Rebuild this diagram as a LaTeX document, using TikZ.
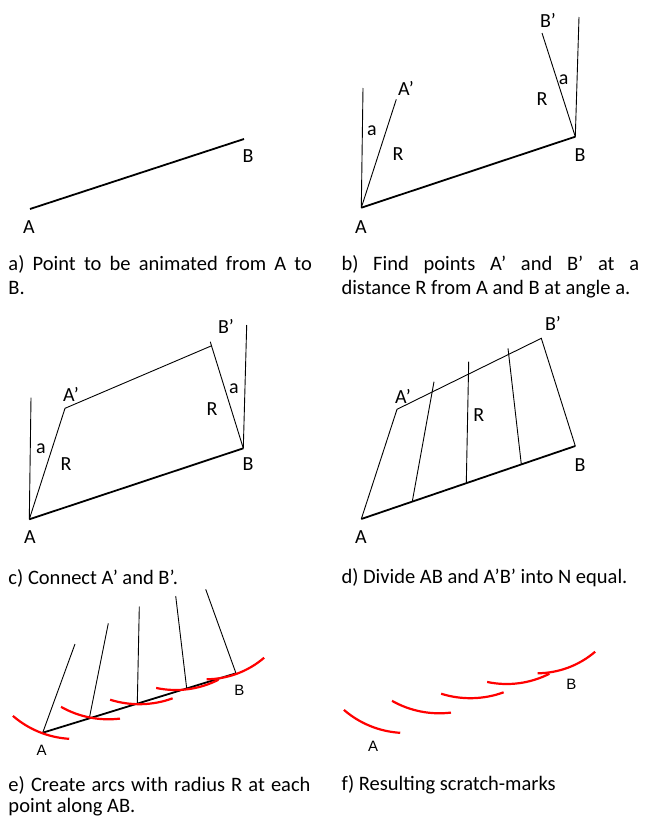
\documentclass[tikz,border=0pt]{standalone}
\usepackage{fontspec}
\setmainfont{Carlito}
\newfontfamily\arialfont{Liberation Sans}
\begin{document}
\begin{tikzpicture}[x=1pt,y=-1pt,
  seg/.style={line width=0.9pt},
  base/.style={line width=1.8pt},
  redarc/.style={red, line width=2.2pt},
  lbl/.style={font=\fontsize{20}{24}\selectfont, inner sep=0pt},
  slbl/.style={font=\arialfont\fontsize{15}{18}\selectfont, inner sep=0pt},
  captext/.style={font=\fontsize{20.5}{24}\selectfont, inner sep=0pt, anchor=base west},
]
\useasboundingbox (0,0) rectangle (646,817);

% ---------- panel a ----------
\coordinate (aA) at (30,209);
\coordinate (aB) at (244,139);
\draw[base] (aA) -- (aB);
\node[lbl] (aAl) at (29,227) {A};
\node[lbl] (aBl) at (248,156) {B};
\node[captext] (capa1) at (8.3,270.7) {\makebox[303.5pt][s]{a) Point to be animated from A to}};
\node[captext] (capa2) at (8.3,294.7) {B.};

% ---------- panel b ----------
\coordinate (bA) at (361.3,207.7);
\coordinate (bB) at (575.3,136.7);
\coordinate (bAv) at (363,88);
\coordinate (bAp) at (396.3,99.3);
\coordinate (bBv) at (579,17);
\coordinate (bBp) at (542,33);
\draw[base] (bA) -- (bB);
\draw[seg] (bA) -- (bAv);
\draw[seg] (bA) -- (bAp);
\draw[seg] (bB) -- (bBv);
\draw[seg] (bB) -- (bBp);
\node[lbl] (bApl) at (406,88) {A’};
\node[lbl] (bal) at (372,131) {a};
\node[lbl] (bRl) at (398,154) {R};
\node[lbl] (bAl) at (361,227) {A};
\node[lbl] (bBl) at (580,155) {B};
\node[lbl] (bBpl) at (548,20) {B’};
\node[lbl] (ba2l) at (563.7,80) {a};
\node[lbl] (bR2l) at (542,99) {R};
\node[captext] (capb1) at (341.3,270.7) {\makebox[297.7pt][s]{b) Find points A’ and B’ at a}};
\node[captext] (capb2) at (341.3,294.7) {distance R from A and B at angle a.};

% ---------- panel c ----------
\coordinate (cA) at (29.3,519.3);
\coordinate (cB) at (243.3,448.3);
\coordinate (cAv) at (31,397.7);
\coordinate (cAp) at (65,408.3);
\coordinate (cBp) at (211.5,345.8);
\coordinate (cBt) at (210.3,341.8);
\coordinate (cBv) at (246.7,325);
\draw[base] (cA) -- (cB);
\draw[seg] (cA) -- (cAv);
\draw[seg] (cA) -- (cAp) -- (cBp);
\draw[seg] (cB) -- (cBp) -- (cBt);
\draw[seg] (cB) -- (cBv);
\node[lbl] (cApl) at (71,394) {A’};
\node[lbl] (cBpl) at (226,326) {B’};
\node[lbl] (cal) at (41,449) {a};
\node[lbl] (cRl) at (66,464) {R};
\node[lbl] (ca2l) at (234,389) {a};
\node[lbl] (cR2l) at (212,409) {R};
\node[lbl] (cAl) at (30,537) {A};
\node[lbl] (cBl) at (248,464) {B};
\node[captext] (capc) at (8.3,584) {c) Connect A’ and B’.};

% ---------- panel d ----------
\coordinate (dA) at (361.3,519);
\coordinate (dB) at (575.3,446);
\coordinate (dAp) at (397,409.3);
\coordinate (dBp) at (541.3,338.3);
\coordinate (d1a) at (412.3,501.4);
\coordinate (d1b) at (434,381.7);
\coordinate (d2a) at (466.3,483);
\coordinate (d2b) at (468.7,361.7);
\coordinate (d3a) at (521.3,464.2);
\coordinate (d3b) at (508,348.3);
\draw[base] (dA) -- (dB);
\draw[seg] (dA) -- (dAp) -- (dBp) -- (dB);
\draw[seg] (d1a) -- (d1b);
\draw[seg] (d2a) -- (d2b);
\draw[seg] (d3a) -- (d3b);
\node[lbl] (dApl) at (403,396) {A’};
\node[lbl] (dBpl) at (553,323) {B’};
\node[lbl] (dRl) at (478.7,415) {R};
\node[lbl] (dAl) at (361,537) {A};
\node[lbl] (dBl) at (580,465) {B};
\node[captext] (capd) at (341.3,583.5) {d) Divide AB and A’B’ into N equal.};

% ---------- panel e ----------
\coordinate (eU1) at (75,644);
\coordinate (eU2) at (108.3,623.3);
\coordinate (eU3) at (139.3,606.7);
\coordinate (eU4) at (175.7,596);
\coordinate (eU5) at (205.7,589.3);
\coordinate (eL1) at (42.7,732.7);
\coordinate (eL2) at (89.3,718.4);
\coordinate (eL3) at (137.3,703.7);
\coordinate (eL4) at (186.7,688.5);
\coordinate (eL5) at (236,673.3);
\draw[base] (eL1) -- (eL5);
\draw[seg] (eL1) -- (eU1);
\draw[seg] (eL2) -- (eU2);
\draw[seg] (eL3) -- (eU3);
\draw[seg] (eL4) -- (eU4);
\draw[seg] (eL5) -- (eU5);
\draw[redarc] ([shift={(130.8:95)}]eU1) arc[start angle=130.8, end angle=93.5, radius=95];
\draw[redarc] ([shift={(119.5:96)}]eU2) arc[start angle=119.5, end angle=83, radius=96];
\draw[redarc] ([shift={(107.4:97.5)}]eU3) arc[start angle=107.4, end angle=70, radius=97.5];
\draw[redarc] ([shift={(102:94)}]eU4) arc[start angle=102, end angle=63, radius=94];
\draw[redarc] ([shift={(89.4:90)}]eU5) arc[start angle=89.4, end angle=49.5, radius=90];
\node[slbl] (eAl) at (41.7,750) {A};
\node[slbl] (eBl) at (239.3,690) {B};
\node[captext] (cape1) at (8.3,791.2) {\makebox[302pt][s]{e) Create arcs with radius R at each}};
\node[captext] (cape2) at (8.3,812.3) {point along AB.};

% ---------- panel f ----------
\begin{scope}[shift={(331,-6)}]
\coordinate (fU1) at (75,644);
\coordinate (fU2) at (108.3,623.3);
\coordinate (fU3) at (139.3,606.7);
\coordinate (fU4) at (175.7,596);
\coordinate (fU5) at (205.7,589.3);
\end{scope}
\draw[redarc] ([shift={(130.8:95)}]fU1) arc[start angle=130.8, end angle=93.5, radius=95];
\draw[redarc] ([shift={(119.5:96)}]fU2) arc[start angle=119.5, end angle=83, radius=96];
\draw[redarc] ([shift={(107.4:97.5)}]fU3) arc[start angle=107.4, end angle=70, radius=97.5];
\draw[redarc] ([shift={(102:94)}]fU4) arc[start angle=102, end angle=63, radius=94];
\draw[redarc] ([shift={(89.4:90)}]fU5) arc[start angle=89.4, end angle=49.5, radius=90];
\node[slbl] (fAl) at (373,746) {A};
\node[slbl] (fBl) at (571.3,684) {B};
\node[captext] (capf) at (341.3,790.7) {f) Resulting scratch-marks};
\end{tikzpicture}
\end{document}
